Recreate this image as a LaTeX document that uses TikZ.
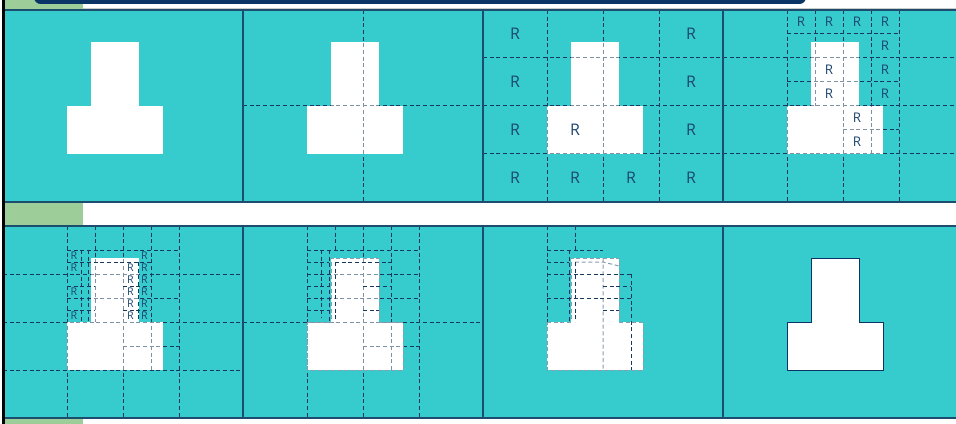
\documentclass[tikz,border=0pt]{standalone}
\usepackage{fontspec}
\setmainfont{Open Sans}
\definecolor{tealbg}{HTML}{36CCCE}
\definecolor{navybar}{HTML}{0A3566}
\definecolor{bordc}{HTML}{1C4C6E}
\definecolor{gridc}{HTML}{17385F}
\definecolor{greenbar}{HTML}{9DCD98}
\definecolor{rcol}{HTML}{1E4670}
\definecolor{outc}{HTML}{8A9CB2}
\tikzset{
  gl/.style={draw=gridc, line width=0.75pt, dash pattern=on 3pt off 2pt},
  ol/.style={draw=outc, line width=0.75pt, dash pattern=on 3pt off 2pt},
  bord/.style={draw=bordc, line width=1pt},
  rbig/.style={font=\fontsize{12}{12}\selectfont, text=rcol, inner sep=0pt},
  rmid/.style={font=\fontsize{10}{10}\selectfont, text=rcol, inner sep=0pt},
  rsml/.style={font=\fontsize{8}{8}\selectfont, text=rcol, inner sep=0pt},
}
\newcommand{\tshape}{\fill[white] (88,32) rectangle (136,96); \fill[white] (64,96) rectangle (160,144);}
\newcommand{\tfade}{\fill[white, opacity=0.45] (88,32) rectangle (136,96); \fill[white, opacity=0.45] (64,96) rectangle (160,144);}
\newcommand{\toutline}{\draw[ol] (64,96)--(88,96)--(88,32)--(136,32)--(136,96)--(160,96)--(160,144)--(64,144)--cycle;}
\newcommand{\lvlthree}{%
  \draw[gl] (64,0)--(64,192) (120,0)--(120,192) (176,0)--(176,192)
            (0,48)--(240,48) (0,96)--(240,96) (0,144)--(240,144)
            (92,0)--(92,96) (148,0)--(148,144)
            (64,24)--(176,24) (64,72)--(176,72) (120,120)--(176,120);}
\begin{document}
\begin{tikzpicture}[x=0.75pt, y=-0.75pt]
\useasboundingbox (0,0) rectangle (956,424);
% top decorations
\fill[greenbar] (5,0) rectangle (83,10);
\fill[navybar, rounded corners=5pt] (34,-8) rectangle (806,4);
\draw[gray!40, line width=0.6pt] (83,8.5) -- (956,8.5);
\fill[greenbar] (5,203) rectangle (83,225);
\fill[greenbar] (5,419) rectangle (83,424);
% panel backgrounds
\fill[tealbg] (3,10) rectangle (960,202);
\fill[tealbg] (3,226) rectangle (960,418);

% ---------- panel 1
\begin{scope}[shift={(3,10)}]
  \tshape
\end{scope}

% ---------- panel 2
\begin{scope}[shift={(243,10)}]
  \tshape
  \draw[gl] (120,0)--(120,192) (0,96)--(240,96);
  \tfade
\end{scope}

% ---------- panel 3
\begin{scope}[shift={(483,10)}]
  \tshape
  \draw[gl] (64,0)--(64,192) (120,0)--(120,192) (176,0)--(176,192)
            (0,48)--(240,48) (0,96)--(240,96) (0,144)--(240,144);
  \tfade
  \foreach \px/\py [count=\i] in {32/24,208/24,32/72,208/72,32/120,92/120,208/120,32/168,92/168,148/168,208/168}
    \node[rbig, name=ra\i] at (\px,\py) {R};
\end{scope}

% ---------- panel 4
\begin{scope}[shift={(723,10)}]
  \tshape
  \lvlthree
  \tfade
  \foreach \px/\py [count=\i] in {78/12,106/12,134/12,162/12,162/36,106/60,162/60,106/84,162/84,134/108,134/132}
    \node[rmid, name=rb\i] at (\px,\py) {R};
\end{scope}

% ---------- panel 5
\begin{scope}[shift={(3,226)}]
  \tshape
  \lvlthree
  \tfade
  \draw[gl] (78,24)--(78,96) (85,24)--(85,96) (135,36)--(135,96)
            (64,36)--(148,36) (64,60)--(92,60) (120,60)--(148,60)
            (64,84)--(92,84) (120,84)--(148,84);
  \foreach \px/\py [count=\i] in {71/30,71/42,71/66,71/90,127.5/42,127.5/54,127.5/66,127.5/78,127.5/90,141.5/30,141.5/42,141.5/54,141.5/66,141.5/78,141.5/90}
    \node[rsml, name=rc\i] at (\px,\py) {R};
\end{scope}

% ---------- panel 6
\begin{scope}[shift={(243,226)}]
  \tshape
  \draw[gl] (64,0)--(64,192) (120,0)--(120,192) (176,0)--(176,192)
            (0,96)--(240,96) (64,48)--(176,48)
            (92,0)--(92,24) (148,0)--(148,144)
            (64,24)--(176,24) (64,72)--(176,72) (120,120)--(176,120);
  \tfade
  \toutline
  \draw[gl] (78,24)--(78,92) (86,24)--(86,96) (92,36)--(92,96)
            (64,36)--(86,36) (92,36)--(148,36)
            (64,60)--(86,60) (120,60)--(148,60)
            (64,84)--(86,84) (120,84)--(136,84);
\end{scope}

% ---------- panel 7
\begin{scope}[shift={(483,226)}]
  \tshape
  \toutline
  \draw[ol] (120,32)--(120,144) (92,36)--(120,36)--(136,40);
  \draw[gl] (64,0)--(64,96) (92,0)--(92,24) (86,24)--(86,96) (92,36)--(92,96)
            (148,48)--(148,144)
            (64,24)--(120,24) (64,36)--(86,36) (64,48)--(148,48)
            (120,60)--(148,60) (64,72)--(148,72) (120,84)--(136,84);
\end{scope}

% ---------- panel 8
\begin{scope}[shift={(723,226)}]
  \draw[draw=navybar, line width=0.6pt, fill=white] (64,96)--(88,96)--(88,32)--(136,32)--(136,96)--(160,96)--(160,144)--(64,144)--cycle;
\end{scope}

% borders
\draw[bord] (3,10) rectangle (962,202);
\draw[bord] (243,10)--(243,202) (483,10)--(483,202) (723,10)--(723,202);
\draw[bord] (3,226) rectangle (962,418);
\draw[bord] (243,226)--(243,418) (483,226)--(483,418) (723,226)--(723,418);
% left black rule
\fill[black] (2,0) rectangle (5,424);
\end{tikzpicture}
\end{document}
